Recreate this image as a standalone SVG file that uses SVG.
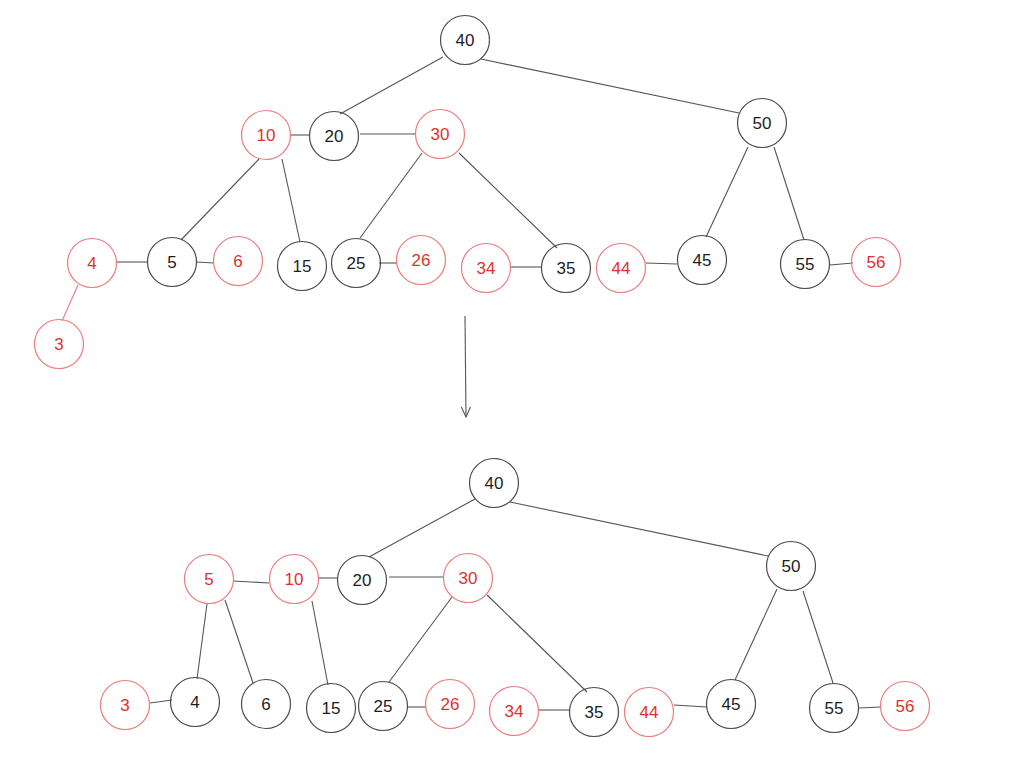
<svg xmlns="http://www.w3.org/2000/svg" width="1016" height="761" viewBox="0 0 1016 761">
<defs>
<style>
.b circle{fill:none;stroke:#4a4a4a;stroke-width:1.2}
.r circle{fill:none;stroke:#ec7a7a;stroke-width:1.2}
text{font-family:"Liberation Sans",Arial,sans-serif;font-size:17px;text-anchor:middle;dominant-baseline:central}
.b text{fill:#1e1e1e}
.r text{fill:#e03131}
#edges line{stroke:#555;stroke-width:1.1}
#edges line.re{stroke:#ec7a7a}
</style>
<marker id="ah" viewBox="0 0 12 10" refX="11" refY="5" markerWidth="12" markerHeight="10" markerUnits="userSpaceOnUse" orient="auto">
<path d="M1 0.5 L11 5 L1 9.5" fill="none" stroke="#555" stroke-width="1.1"/>
</marker>
</defs>
<rect width="1016" height="761" fill="#fff"/>
<g id="edges">
<line x1="443" y1="57" x2="340" y2="114"/>
<line x1="481" y1="59" x2="739" y2="113"/>
<line x1="290" y1="135" x2="309" y2="135"/>
<line x1="360" y1="134" x2="415" y2="134"/>
<line x1="259" y1="159" x2="181" y2="240"/>
<line x1="282" y1="159" x2="300" y2="242"/>
<line x1="422" y1="153" x2="360" y2="238"/>
<line x1="459" y1="153" x2="557" y2="248"/>
<line x1="748" y1="147" x2="706" y2="237"/>
<line x1="774" y1="147" x2="804" y2="240"/>
<line x1="117" y1="262" x2="148" y2="262"/>
<line x1="196" y1="262" x2="214" y2="263"/>
<line class="re" x1="78" y1="285" x2="62" y2="321"/>
<line x1="379" y1="263" x2="397" y2="263"/>
<line x1="511" y1="267" x2="542" y2="267"/>
<line x1="646" y1="263" x2="677" y2="264"/>
<line x1="830" y1="265" x2="853" y2="263"/>
<line x1="465" y1="316" x2="466" y2="417" marker-end="url(#ah)"/>
<line x1="475" y1="499" x2="369" y2="557"/>
<line x1="510" y1="502" x2="768" y2="556"/>
<line x1="233" y1="581" x2="269" y2="583"/>
<line x1="318" y1="578" x2="338" y2="578"/>
<line x1="389" y1="577" x2="444" y2="577"/>
<line x1="207" y1="604" x2="197" y2="679"/>
<line x1="225" y1="600" x2="253" y2="683"/>
<line x1="312" y1="601" x2="328" y2="685"/>
<line x1="452" y1="597" x2="389" y2="682"/>
<line x1="487" y1="595" x2="587" y2="692"/>
<line x1="777" y1="589" x2="735" y2="680"/>
<line x1="803" y1="591" x2="833" y2="683"/>
<line x1="150" y1="703" x2="172" y2="700"/>
<line x1="408" y1="707" x2="426" y2="707"/>
<line x1="539" y1="710" x2="570" y2="710"/>
<line x1="674" y1="705" x2="707" y2="707"/>
<line x1="859" y1="708" x2="880" y2="707"/>
</g>
<g id="t40" class="b"><circle cx="465" cy="40" r="24.5"/><text x="465" y="40">40</text></g>
<g id="t10" class="r"><circle cx="266" cy="135" r="24.5"/><text x="266" y="135">10</text></g>
<g id="t20" class="b"><circle cx="334" cy="136" r="24.5"/><text x="334" y="136">20</text></g>
<g id="t30" class="r"><circle cx="440" cy="134" r="24.5"/><text x="440" y="134">30</text></g>
<g id="t50" class="b"><circle cx="762" cy="123" r="24.5"/><text x="762" y="123">50</text></g>
<g id="t4" class="r"><circle cx="92" cy="263" r="24.5"/><text x="92" y="263">4</text></g>
<g id="t5" class="b"><circle cx="172" cy="262" r="24.5"/><text x="172" y="262">5</text></g>
<g id="t6" class="r"><circle cx="238" cy="261" r="24.5"/><text x="238" y="261">6</text></g>
<g id="t15" class="b"><circle cx="302" cy="266" r="24.5"/><text x="302" y="266">15</text></g>
<g id="t25" class="b"><circle cx="356" cy="263" r="24.5"/><text x="356" y="263">25</text></g>
<g id="t26" class="r"><circle cx="421" cy="260" r="24.5"/><text x="421" y="260">26</text></g>
<g id="t34" class="r"><circle cx="486" cy="268" r="24.5"/><text x="486" y="268">34</text></g>
<g id="t35" class="b"><circle cx="566" cy="268" r="24.5"/><text x="566" y="268">35</text></g>
<g id="t44" class="r"><circle cx="621" cy="268" r="24.5"/><text x="621" y="268">44</text></g>
<g id="t45" class="b"><circle cx="702" cy="260" r="24.5"/><text x="702" y="260">45</text></g>
<g id="t55" class="b"><circle cx="805" cy="264" r="24.5"/><text x="805" y="264">55</text></g>
<g id="t56" class="r"><circle cx="876" cy="262" r="24.5"/><text x="876" y="262">56</text></g>
<g id="t3" class="r"><circle cx="59" cy="344" r="24.5"/><text x="59" y="344">3</text></g>
<g id="b40" class="b"><circle cx="494" cy="483" r="24.5"/><text x="494" y="483">40</text></g>
<g id="b5" class="r"><circle cx="209" cy="579" r="24.5"/><text x="209" y="579">5</text></g>
<g id="b10" class="r"><circle cx="294" cy="579" r="24.5"/><text x="294" y="579">10</text></g>
<g id="b20" class="b"><circle cx="362" cy="580" r="24.5"/><text x="362" y="580">20</text></g>
<g id="b30" class="r"><circle cx="468" cy="578" r="24.5"/><text x="468" y="578">30</text></g>
<g id="b50" class="b"><circle cx="791" cy="566" r="24.5"/><text x="791" y="566">50</text></g>
<g id="b3" class="r"><circle cx="125" cy="705" r="24.5"/><text x="125" y="705">3</text></g>
<g id="b4" class="b"><circle cx="195" cy="702" r="24.5"/><text x="195" y="702">4</text></g>
<g id="b6" class="b"><circle cx="266" cy="704" r="24.5"/><text x="266" y="704">6</text></g>
<g id="b15" class="b"><circle cx="331" cy="708" r="24.5"/><text x="331" y="708">15</text></g>
<g id="b25" class="b"><circle cx="383" cy="706" r="24.5"/><text x="383" y="706">25</text></g>
<g id="b26" class="r"><circle cx="450" cy="704" r="24.5"/><text x="450" y="704">26</text></g>
<g id="b34" class="r"><circle cx="514" cy="711" r="24.5"/><text x="514" y="711">34</text></g>
<g id="b35" class="b"><circle cx="594" cy="712" r="24.5"/><text x="594" y="712">35</text></g>
<g id="b44" class="r"><circle cx="649" cy="712" r="24.5"/><text x="649" y="712">44</text></g>
<g id="b45" class="b"><circle cx="731" cy="704" r="24.5"/><text x="731" y="704">45</text></g>
<g id="b55" class="b"><circle cx="834" cy="708" r="24.5"/><text x="834" y="708">55</text></g>
<g id="b56" class="r"><circle cx="905" cy="706" r="24.5"/><text x="905" y="706">56</text></g>
</svg>
